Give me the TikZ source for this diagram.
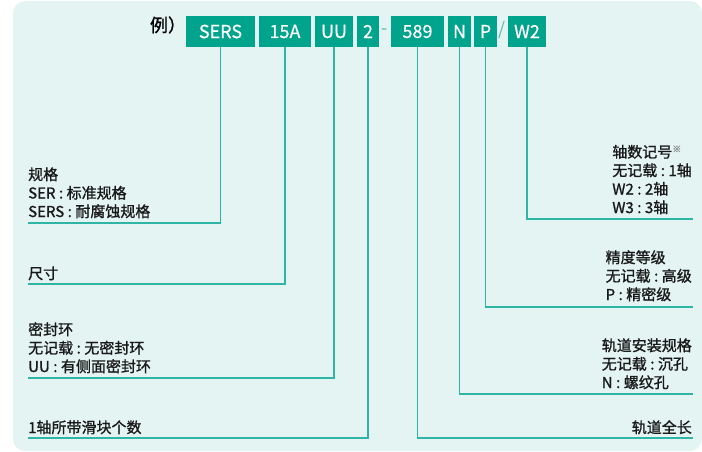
\documentclass[tikz,border=0pt]{standalone}
\usepackage{fontspec}
\setmainfont{Noto Sans CJK SC}
\newfontfamily\lblfont{Noto Sans CJK SC}[FakeBold=1.2]
\newfontfamily\boxfont{Noto Sans CJK SC}[FakeBold=0.6]
\definecolor{bgc}{HTML}{E4F4F3}
\definecolor{boxc}{HTML}{00A38C}
\definecolor{linec}{HTML}{2EB5A5}
\definecolor{sepc}{HTML}{5BB8AD}
\newcommand{\cl}{\kern3.5pt:\kern3.5pt}
\begin{document}
\begin{tikzpicture}[x=1pt,y=-1pt,
  codebox/.style={fill=boxc,text=white,inner sep=0pt,minimum height=31pt,
    font=\boxfont\fontsize{18}{20}\selectfont},
  conn/.style={draw=linec,line width=1.5pt},
  lbl/.style={inner sep=0pt,align=left,font=\lblfont\fontsize{15}{18.5}\selectfont,text=black!90},
  sep/.style={inner sep=0pt,text=sepc,font=\fontsize{18}{20}\selectfont}]
\useasboundingbox (0,0) rectangle (702,451);
\fill[bgc,rounded corners=12pt] (13,1) rectangle (702,451);
% header
\node[inner sep=0pt,font=\lblfont\fontsize{18}{20}\selectfont] (ex) at (168,25) {例）};
\node[codebox,minimum width=69pt] (sers) at (220.5,31.5) {SERS};
\node[codebox,minimum width=52pt] (size) at (285,31.5) {15A};
\node[codebox,minimum width=38pt] (uu) at (334,31.5) {UU};
\node[codebox,minimum width=22pt] (two) at (368,31.5) {2};
\node[sep] (dash) at (385,32) {-};
\node[codebox,minimum width=53pt] (len) at (417.5,31.5) {589};
\node[codebox,minimum width=23pt] (nn) at (459.5,31.5) {N};
\node[codebox,minimum width=23pt] (pp) at (485.5,31.5) {P};
\node[sep] (slash) at (502,30) {/};
\node[codebox,minimum width=38pt] (w2) at (527,31.5) {W2};
% end coordinates
\coordinate (e1) at (28,223);
\coordinate (e2) at (28,284);
\coordinate (e3) at (28,378);
\coordinate (e4) at (28,438);
\coordinate (e5) at (693,438);
\coordinate (e6) at (693,394);
\coordinate (e7) at (693,307);
\coordinate (e8) at (693,219);
% connectors
\draw[conn] (sers.south) |- (e1);
\draw[conn] (size.south) |- (e2);
\draw[conn] (uu.south) |- (e3);
\draw[conn] (two.south) |- (e4);
\draw[conn] (len.south) |- (e5);
\draw[conn] (nn.south) |- (e6);
\draw[conn] (pp.south) |- (e7);
\draw[conn] (w2.south) |- (e8);
% labels
\node[lbl,anchor=base west] (t1) at (28,217) {规格\\SER\cl 标准规格\\SERS\cl 耐腐蚀规格};
\node[lbl,anchor=base west] (t2) at (28,279) {尺寸};
\node[lbl,anchor=base west] (t3) at (28,372) {密封环\\无记载\cl 无密封环\\UU\cl 有侧面密封环};
\node[lbl,anchor=base west] (t4) at (28,433) {1轴所带滑块个数};
\node[lbl,anchor=base east] (t5) at (692,433) {轨道全长};
\node[lbl,anchor=base east] (t6) at (692,388) {轨道安装规格\\无记载\cl 沉孔\\N\cl 螺纹孔};
\node[lbl,anchor=base east] (t7) at (692,300) {精度等级\\无记载\cl 高级\\P\cl 精密级};
\node[lbl,anchor=base east] (t8) at (692,213) {轴数记号\textsuperscript{\textcolor{black!45}{\fontsize{9}{9}\selectfont ※}}\\无记载\cl 1轴\\W2\cl 2轴\\W3\cl 3轴};
\end{tikzpicture}
\end{document}
